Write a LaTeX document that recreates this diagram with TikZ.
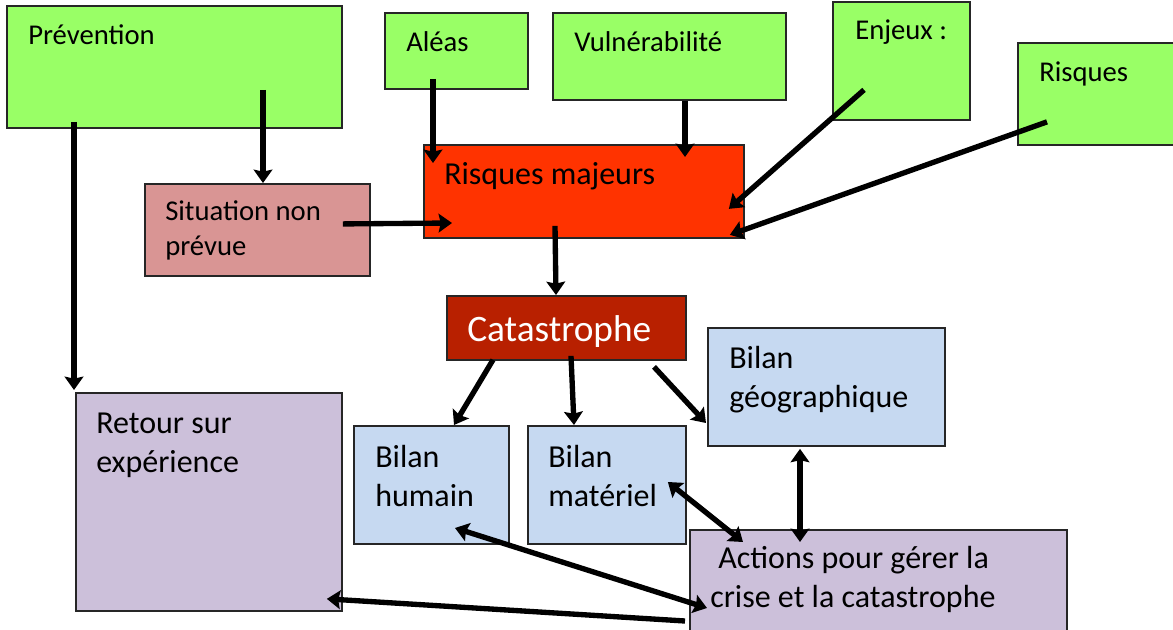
\documentclass[tikz,border=0pt]{standalone}
\usepackage{fontspec}
\setmainfont{Carlito}
\usepackage{tikz}
\usetikzlibrary{positioning}
\usetikzlibrary{arrows.meta}

\definecolor{vert}{RGB}{153,255,102}
\definecolor{rouge}{RGB}{255,51,0}
\definecolor{rose}{RGB}{217,149,148}
\definecolor{brique}{RGB}{184,32,0}
\definecolor{bleu}{RGB}{198,217,241}
\definecolor{mauve}{RGB}{204,192,218}

\begin{document}
\begin{tikzpicture}[x=0.75pt,y=-0.75pt,>={Stealth[length=10pt,width=14pt,inset=1.5pt]},
	fleche/.style={->,line width=4pt},
	double fleche/.style={<->,line width=4pt},
	boite/.style={draw=black!85,line width=1.4pt,anchor=north west,inner sep=0pt},
	petit/.style={anchor=base west,inner sep=0pt,align=left,font=\fontsize{21.5}{26.25}\selectfont},
	grand/.style={anchor=base west,inner sep=0pt,align=left,font=\fontsize{24}{29.25}\selectfont}]

	\useasboundingbox (0,0) rectangle (1173,630);

	% les boites
	\node[boite,fill=vert,minimum width=251.25pt,minimum height=91.5pt] (prev) at (6,5) {};
	\node[boite,fill=vert,minimum width=107.25pt,minimum height=57pt] (aleas) at (384,12) {};
	\node[boite,fill=vert,minimum width=174.75pt,minimum height=65.25pt] (vuln) at (552,12) {};
	\node[boite,fill=vert,minimum width=102.75pt,minimum height=88.5pt] (enjeux) at (832,1) {};
	\node[boite,fill=vert,minimum width=122.25pt,minimum height=76.5pt] (risques) at (1017,42) {};
	\node[boite,fill=rouge,minimum width=240pt,minimum height=69.75pt] (rm) at (423,144) {};
	\node[boite,fill=rose,minimum width=168.75pt,minimum height=69pt] (sit) at (144,183) {};
	\node[boite,fill=brique,minimum width=179.25pt,minimum height=48pt] (cata) at (446,295) {};
	\node[boite,fill=mauve,minimum width=199.5pt,minimum height=163.5pt] (ret) at (75,392) {};
	\node[boite,fill=bleu,minimum width=116.25pt,minimum height=88.5pt] (hum) at (353,425) {};
	\node[boite,fill=bleu,minimum width=118.5pt,minimum height=88.5pt] (mat) at (527,425) {};
	\node[boite,fill=bleu,minimum width=177.75pt,minimum height=88.5pt] (geo) at (707,327) {};
	\node[boite,fill=mauve,minimum width=282.75pt,minimum height=83.25pt] (act) at (689,529) {};

	% les textes (base = derniere ligne)
	\node[petit] (prevT) at ([shift={(22,40)}]prev.north west) {Prévention};
	\node[petit] (aleasT) at ([shift={(22,40)}]aleas.north west) {Aléas};
	\node[petit] (vulnT) at ([shift={(22,40)}]vuln.north west) {Vulnérabilité};
	\node[petit] (enjeuxT) at ([shift={(23,39)}]enjeux.north west) {Enjeux :};
	\node[petit] (risquesT) at ([shift={(22,40)}]risques.north west) {Risques};
	\node[grand] (rmT) at ([shift={(21,41)}]rm.north west) {Risques majeurs};
	\node[petit] (sitT) at ([shift={(21,73)}]sit.north west) {Situation non\\prévue};
	\node[anchor=base west,inner sep=0pt,text=white,font=\fontsize{28}{34}\selectfont] (cataT) at ([shift={(21,47)}]cata.north west) {Catastrophe};
	\node[grand] (retT) at ([shift={(21,80)}]ret.north west) {Retour sur\\expérience};
	\node[grand] (humT) at ([shift={(22,81)}]hum.north west) {Bilan\\humain};
	\node[grand] (matT) at ([shift={(21,81)}]mat.north west) {Bilan\\matériel};
	\node[grand] (geoT) at ([shift={(22,80)}]geo.north west) {Bilan\\géographique};
	\node[grand] (actT) at ([shift={(21,78)}]act.north west) {\hspace*{6pt}Actions pour gérer la\\crise et la catastrophe};

	% les fleches
	\draw[fleche] ([shift={(68,-7)}]prev.south west) -- ([shift={(-1,-2)}]ret.north west);
	\draw[fleche] ([shift={(257,-39)}]prev.south west) -- ([shift={(119,0)}]sit.north west);
	\draw[fleche] ([shift={(49,-11)}]aleas.south west) -- ([shift={(10,19)}]rm.north west);
	\draw[fleche] ([shift={(133,0)}]vuln.south west) -- ([shift={(262,13)}]rm.north west);
	\draw[fleche] ([shift={(32,-31)}]enjeux.south west) -- ([shift={(-16,-30)}]rm.south east);
	\draw[fleche] ([shift={(30,-24)}]risques.south west) -- ([shift={(-15,-4)}]rm.south east);
	\draw[fleche] ([shift={(-28,-6)}]sit.east) -- ([shift={(29,79)}]rm.north west);
	\draw[fleche] ([shift={(132,-13)}]rm.south west) -- ([shift={(110,0)}]cata.north west);
	\draw[fleche] ([shift={(47,-1)}]cata.south west) -- ([shift={(101,0)}]hum.north west);
	\draw[fleche] ([shift={(125,-5)}]cata.south west) -- ([shift={(47,0)}]mat.north west);
	\draw[fleche] ([shift={(208,6)}]cata.south west) -- ([shift={(-1,96)}]geo.north west);
	\draw[double fleche] ([shift={(93,2)}]geo.south west) -- ([shift={(111,13)}]act.north west);
	\draw[double fleche] ([shift={(-19,57)}]mat.north east) -- ([shift={(54,13)}]act.north west);
	\draw[double fleche] ([shift={(102,103)}]hum.north west) -- ([shift={(18,79)}]act.north west);
	\draw[fleche] ([shift={(-4,92)}]act.north west) -- ([shift={(-16,-13)}]ret.south east);
\end{tikzpicture}
\end{document}
